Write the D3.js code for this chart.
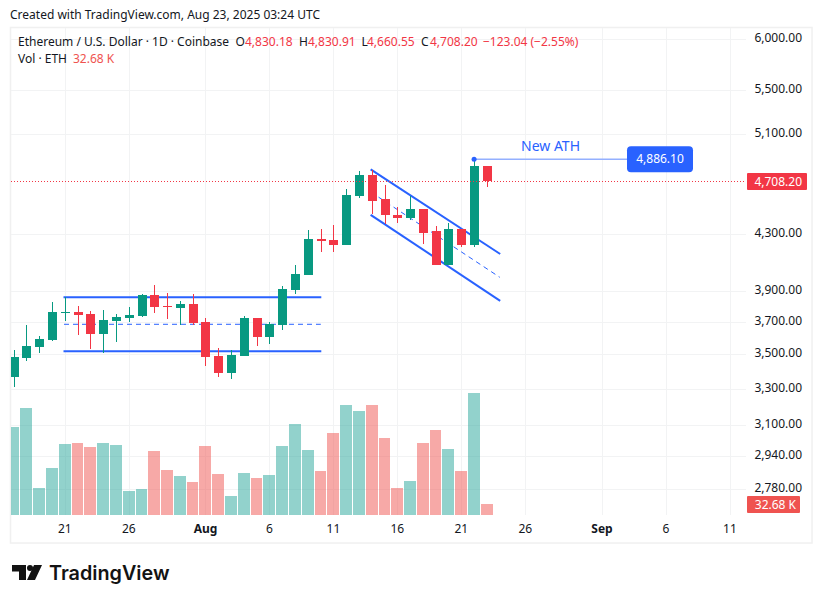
<!DOCTYPE html>
<html><head><meta charset="utf-8">
<script src="https://cdn.jsdelivr.net/npm/d3@7"></script>
<style>
html,body{margin:0;padding:0;background:#fff}
svg{display:block}
text{font-family:"Noto Sans",sans-serif;font-size:12px;fill:#131722}
</style></head><body>
<svg id="c" width="822" height="603"></svg>
<script>
const startDay = "2025-07-17";
const opens  = [3368,3478,3545,3588,3756,3764,3751,3625,3705,3725,3738,3874,3803,3790,3816,3699,3490,3391,3490,3725,3606,3680,3907,4013,4264,4257,4223,4592,4757,4562,4446,4423,4485,4323,4076,4338,4223,4830.18];
const highs  = [3526,3680,3613,3829,3861,3803,3770,3777,3751,3796,3880,3941,3887,3835,3880,3725,3539,3526,3738,3725,3699,3935,4076,4331,4339,4369,4646,4790,4798,4677,4500,4592,4492,4361,4385,4338,4886.1,4830.91];
const lows   = [3310,3461,3508,3582,3705,3619,3533,3508,3576,3699,3731,3757,3718,3680,3680,3432,3368,3357,3490,3551,3563,3650,3880,4013,4167,4174,4223,4570,4454,4377,4385,4408,4230,4076,4076,4209,4209,4660.55];
const closes = [3484,3551,3594,3764,3762,3744,3625,3712,3731,3744,3874,3796,3796,3816,3693,3484,3391,3496,3725,3606,3686,3914,4020,4264,4250,4223,4600,4757,4554,4439,4423,4485,4308,4076,4338,4223,4832,4708.2];
const volumes = [261,318,80,140,211,214,202,214,208,71,77,190,134,116,98,205,122,56,125,110,119,205,270,193,131,244,327,309,327,229,80,101,214,252,196,131,362,32.68];
const priceTicks = [6000,5500,5100,4300,3900,3700,3500,3300,3100,2940,2780];
const timeTicks = ["2025-07-21","2025-07-26","2025-08-01","2025-08-06","2025-08-11","2025-08-16","2025-08-21","2025-08-26","2025-09-01","2025-09-06","2025-09-11"];
const timeLabels = ["21","26","Aug","6","11","16","21","26","Sep","6","11"];
const rangeLevels = [3861,3686,3520];
const rangeDays = ["2025-07-21","2025-08-10"];
const channelDays = ["2025-08-14","2025-08-24"];
const channelTop = [4798,4160];
const channelMid = [4617,3996];
const channelBottom = [4440,3840];
const athDay = "2025-08-22", athPrice = 4886.10, lastPrice = 4708.20, lastVolume = 32.68;

const d = s => new Date(s + "T00:00:00Z");
const dates = opens.map((_, i) => d3.utcDay.offset(d(startDay), i));
const x = d3.scaleUtc().domain([d("2025-07-21"), d("2025-09-11")]).range([65.3, 65.3 + 12.79 * 52]);
const y = d3.scaleLog().domain([6000, 2780]).range([39.1, 489.4]);
const v = d3.scaleLinear().domain([0, lastVolume]).range([515, 504]);
const up = "#089981", down = "#F23645", volUp = "#26a69a", volDown = "#ef5350", blue = "#2962FF", grid = "#f2f3f4";
const svg = d3.select("#c");

svg.append("defs").append("clipPath").attr("id", "pane").append("rect")
  .attr("x", 11).attr("y", 28).attr("width", 735).attr("height", 487);

// frame
svg.append("rect").attr("x", 10.5).attr("y", 27.5).attr("width", 801.5).attr("height", 515.5)
  .attr("fill", "none").attr("stroke", "#f0f0f0").attr("stroke-width", 1.5);

// grid
const g = svg.append("g").attr("shape-rendering", "crispEdges");
g.selectAll(".h").data(priceTicks).join("line").attr("x1", 11).attr("x2", 746)
  .attr("y1", p => y(p)).attr("y2", p => y(p)).attr("stroke", grid);
g.selectAll(".v").data(timeTicks).join("line").attr("y1", 28).attr("y2", 515)
  .attr("x1", t => x(d(t))).attr("x2", t => x(d(t))).attr("stroke", grid);

const pane = svg.append("g").attr("clip-path", "url(#pane)");

// volume
const barLeft = i => Math.floor(x(d3.utcDay.offset(d(startDay), i)) - 6);
pane.append("g").attr("shape-rendering", "crispEdges").selectAll("rect").data(volumes).join("rect")
  .attr("x", (_, i) => barLeft(i))
  .attr("width", (_, i) => barLeft(i + 1) - barLeft(i) - 1)
  .attr("y", w => v(w)).attr("height", w => v(0) - v(w))
  .attr("fill", (_, i) => closes[i] >= opens[i] ? volUp : volDown)
  .attr("fill-opacity", 0.5);

// drawings
const dr = pane.append("g").attr("stroke", blue).attr("fill", "none").attr("stroke-linecap", "square").attr("transform", "translate(-0.8,0)");
const seg = (days, a, b, sw, dash) => dr.append("line")
  .attr("x1", x(d(days[0]))).attr("x2", x(d(days[1])))
  .attr("y1", y(a)).attr("y2", y(b)).attr("stroke-width", sw).attr("stroke-dasharray", dash || null);
seg(rangeDays, rangeLevels[0], rangeLevels[0], 2);
seg(rangeDays, rangeLevels[1], rangeLevels[1], 1, "4 5");
seg(rangeDays, rangeLevels[2], rangeLevels[2], 2);
seg(channelDays, channelTop[0], channelTop[1], 2);
seg(channelDays, channelMid[0], channelMid[1], 1, "4 5");
seg(channelDays, channelBottom[0], channelBottom[1], 2);

// last price line
svg.append("line").attr("x1", 11).attr("x2", 746).attr("y1", y(lastPrice) + 0.6).attr("y2", y(lastPrice) + 0.6)
  .attr("stroke", down).attr("stroke-dasharray", "1 2").attr("shape-rendering", "crispEdges");

// candles
const c = pane.append("g").attr("shape-rendering", "crispEdges").selectAll("g").data(opens).join("g");
c.append("line")
  .attr("x1", (_, i) => Math.floor(x(dates[i])) + 0.5).attr("x2", (_, i) => Math.floor(x(dates[i])) + 0.5)
  .attr("y1", (_, i) => y(highs[i])).attr("y2", (_, i) => y(lows[i]))
  .attr("stroke", (_, i) => closes[i] >= opens[i] ? up : down);
c.append("rect")
  .attr("x", (_, i) => Math.floor(x(dates[i])) - 4).attr("width", 9)
  .attr("y", (_, i) => Math.min(y(opens[i]), y(closes[i])))
  .attr("height", (_, i) => Math.max(1, Math.abs(y(opens[i]) - y(closes[i]))))
  .attr("fill", (_, i) => closes[i] >= opens[i] ? up : down);

// ATH marker
const ax = x(d(athDay)), ay = y(athPrice);
svg.append("line").attr("x1", ax).attr("x2", 628).attr("y1", ay).attr("y2", ay)
  .attr("stroke", "#94b0ff").attr("stroke-width", 1.5);
svg.append("circle").attr("cx", ax - 0.5).attr("cy", ay).attr("r", 2.5).attr("fill", blue);
svg.append("text").attr("x", 521).attr("y", ay - 8).text("New ATH").style("font-size", "14px").style("fill", blue);
svg.append("rect").attr("x", 627).attr("y", ay - 13).attr("width", 66).attr("height", 26).attr("rx", 4).attr("fill", blue);
svg.append("text").attr("x", 660).attr("y", ay + 4).attr("text-anchor", "middle").style("fill", "#fff")
  .text(d3.format(",.2f")(athPrice));

// axes
const fmt = d3.format(",.2f");
const ya = svg.append("g").attr("transform", "translate(802,-2)")
  .call(d3.axisLeft(y).tickValues(priceTicks).tickFormat(fmt).tickSize(0).tickPadding(0));
ya.select(".domain").remove();
ya.selectAll("text").attr("dy", "0.35em").style("font-size", "12px").style("font-family", '"Noto Sans",sans-serif');

const xa = svg.append("g").attr("transform", "translate(-1,515)")
  .call(d3.axisBottom(x).tickValues(timeTicks.map(d)).tickFormat((_, i) => timeLabels[i]).tickSize(0).tickPadding(9));
xa.select(".domain").remove();
xa.selectAll("text").style("font-size", "12px").style("font-family", '"Noto Sans",sans-serif')
  .style("font-weight", (_, i) => /[A-Za-z]/.test(timeLabels[i]) ? 700 : 400);

// price flags
svg.append("rect").attr("x", 747).attr("y", 173).attr("width", 60).attr("height", 17).attr("rx", 1).attr("fill", down);
svg.append("text").attr("x", 802).attr("y", 185.5).attr("text-anchor", "end").style("fill", "#fff").text(fmt(lastPrice));
svg.append("rect").attr("x", 747).attr("y", 496).attr("width", 53).attr("height", 17).attr("rx", 1).attr("fill", volDown);
svg.append("text").attr("x", 796).attr("y", 509).attr("text-anchor", "end").style("fill", "#fff").text(lastVolume + " K");

// header texts
svg.append("text").attr("x", 10).attr("y", 19).text("Created with TradingView.com, Aug 23, 2025 03:24 UTC");
const legend = [["Ethereum / U.S. Dollar · 1D · Coinbase",18,0],["O",235.5,0],["4,830.18",245,1],["H",299,0],["4,830.91",308,1],["L",361.5,0],["4,660.55",367,1],["C",421,0],["4,708.20",430,1],["−123.04 (−2.55%)",483,1]];
svg.selectAll(".lg").data(legend).join("text").attr("x", t => t[1]).attr("y", 46).text(t => t[0])
  .style("fill", t => t[2] ? down : "#131722");
svg.append("text").attr("x", 18).attr("y", 63).text("Vol · ETH");
svg.append("text").attr("x", 73).attr("y", 63).style("fill", volDown).text(lastVolume + " K");

// logo
const logo = svg.append("g").attr("fill", "#131313");
logo.append("path").attr("d", "M12 565H26V580H19V571.5H12Z");
logo.append("circle").attr("cx", 30).attr("cy", 568).attr("r", 3);
logo.append("path").attr("d", "M34 565H42L35 580H27Z");
svg.append("text").attr("x", 49).attr("y", 580).text("TradingView")
  .style("font-family", "Inter,sans-serif").style("font-weight", 600).style("font-size", "19.8px").style("fill", "#131313");
</script>
</body></html>
